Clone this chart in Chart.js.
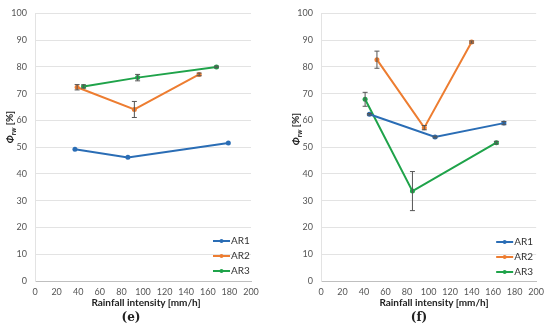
<!DOCTYPE html>
<html>
<head>
<meta charset="utf-8">
<script src="https://cdn.jsdelivr.net/npm/chart.js@4.4.1/dist/chart.umd.min.js"></script>
<style>
  body { margin: 0; background: #fff; }
  #wrap { position: relative; width: 550px; height: 329px; font-family: Lato, "Open Sans", sans-serif; }
  .pane { position: absolute; top: 0; width: 275px; height: 329px; }
  .xt { position: absolute; top: 296px; font-size: 10px; font-weight: bold; color: #222; white-space: nowrap; transform: translateX(-50%); }
  .yt { position: absolute; font-size: 10px; font-weight: bold; color: #222; white-space: nowrap; transform: translate(-50%, -50%) rotate(-90deg); }
  .yt sub { font-size: 7px; font-style: italic; }
  .cap { position: absolute; top: 310px; font-family: "DejaVu Serif", "Liberation Serif", serif; font-weight: bold; font-size: 12px; color: #222; transform: translateX(-50%); }
</style>
</head>
<body>
<div id="wrap">
  <div class="pane" style="left:0"><canvas id="chartE"></canvas></div>
  <div class="pane" style="left:275px"><canvas id="chartF"></canvas></div>
  <div class="yt" style="left:10px; top:127px"><i>Φ</i><sub>rw</sub> [%]</div>
  <div class="yt" style="left:296px; top:129px"><i>Φ</i><sub>rw</sub> [%]</div>
  <div class="xt" style="left:146px">Rainfall intensity [mm/h]</div>
  <div class="xt" style="left:434px">Rainfall intensity [mm/h]</div>
  <div class="cap" style="left:131px">(e)</div>
  <div class="cap" style="left:419px">(f)</div>
</div>
<script>
"use strict";

// tick labels
var xTicks = [0, 20, 40, 60, 80, 100, 120, 140, 160, 180, 200];
var yTicks = [0, 10, 20, 30, 40, 50, 60, 70, 80, 90, 100];
var seriesNames = ['AR1', 'AR2', 'AR3'];
var seriesColors = ['#2a6db5', '#ed7d31', '#1fa34a'];

// (e)
var rainE_AR1 = [37, 86, 179];
var phiE_AR1  = [49.2, 46.2, 51.6];
var errE_AR1  = [0, 0, 0];
var rainE_AR2 = [39, 92, 152];
var phiE_AR2  = [72.4, 64.1, 77.2];
var errE_AR2  = [1, 3, 0.5];
var rainE_AR3 = [45, 95, 168];
var phiE_AR3  = [72.7, 76.0, 80.0];
var errE_AR3  = [0.6, 1.2, 0.3];

// (f)
var rainF_AR1 = [45, 106, 170];
var phiF_AR1  = [62.3, 53.8, 59.0];
var errF_AR1  = [0.3, 0.3, 0.6];
var rainF_AR2 = [52, 96, 140];
var phiF_AR2  = [82.7, 57.3, 89.3];
var errF_AR2  = [3.2, 0.8, 0.4];
var rainF_AR3 = [41, 85, 163];
var phiF_AR3  = [67.9, 33.6, 51.7];
var errF_AR3  = [2.6, 7.3, 0.5];

function pts(xs, ys, es) {
  return xs.map(function (x, i) { return { x: x, y: ys[i], e: es[i] }; });
}

function makeSet(i, xs, ys, es) {
  return {
    label: seriesNames[i],
    data: pts(xs, ys, es),
    showLine: true,
    borderColor: seriesColors[i],
    backgroundColor: seriesColors[i],
    borderWidth: 2,
    pointRadius: 2.5,
    pointBorderWidth: 0,
    pointHoverRadius: 2.5
  };
}

// error bars
var errorBars = {
  id: 'errorBars',
  afterDatasetsDraw: function (chart) {
    var ctx = chart.ctx, xs = chart.scales.x, ys = chart.scales.y;
    ctx.save();
    ctx.strokeStyle = '#555';
    ctx.lineWidth = 1;
    chart.data.datasets.forEach(function (ds) {
      ds.data.forEach(function (p) {
        if (!p.e) return;
        var px = xs.getPixelForValue(p.x);
        var top = ys.getPixelForValue(p.y + p.e);
        var bot = ys.getPixelForValue(p.y - p.e);
        ctx.beginPath();
        ctx.moveTo(px, top); ctx.lineTo(px, bot);
        ctx.moveTo(px - 2.5, top); ctx.lineTo(px + 2.5, top);
        ctx.moveTo(px - 2.5, bot); ctx.lineTo(px + 2.5, bot);
        ctx.stroke();
      });
    });
    ctx.restore();
  }
};

// legend inside plot, bottom right
var innerLegend = {
  id: 'innerLegend',
  afterDraw: function (chart, args, opts) {
    var ctx = chart.ctx, a = chart.chartArea;
    ctx.save();
    ctx.font = '10px Lato, "Open Sans", sans-serif';
    ctx.textBaseline = 'middle';
    chart.data.datasets.forEach(function (ds, i) {
      var y = a.bottom - opts.up + i * 15;
      var x0 = a.right - opts.left;
      ctx.strokeStyle = ds.borderColor;
      ctx.lineWidth = 2;
      ctx.beginPath(); ctx.moveTo(x0, y); ctx.lineTo(x0 + 17, y); ctx.stroke();
      ctx.fillStyle = ds.borderColor;
      ctx.beginPath(); ctx.arc(x0 + 8.5, y, 2, 0, Math.PI * 2); ctx.fill();
      ctx.fillStyle = '#333';
      ctx.fillText(ds.label, x0 + 18, y);
    });
    ctx.restore();
  }
};

function makeChart(id, sets, yWidth, padRight, legLeft, legUp) {
  return new Chart(document.getElementById(id), {
    type: 'scatter',
    data: { datasets: sets },
    plugins: [errorBars, innerLegend],
    options: {
      responsive: false,
      animation: false,
      layout: { padding: { left: 0, right: padRight, top: 9, bottom: 18 } },
      plugins: {
        legend: { display: false },
        tooltip: { enabled: false },
        innerLegend: { left: legLeft, up: legUp }
      },
      scales: {
        x: {
          type: 'linear',
          min: xTicks[0], max: xTicks[xTicks.length - 1],
          afterFit: function (s) { s.height = 30; },
          afterBuildTicks: function (s) { s.ticks = xTicks.map(function (v) { return { value: v }; }); },
          grid: { display: false, drawTicks: false },
          border: { color: '#bfbfbf' },
          ticks: { padding: 6, color: '#555', font: { family: 'Lato', size: 9 }, maxRotation: 0 }
        },
        y: {
          type: 'linear',
          min: yTicks[0], max: yTicks[yTicks.length - 1],
          afterFit: function (s) { s.width = yWidth; },
          afterBuildTicks: function (s) { s.ticks = yTicks.map(function (v) { return { value: v }; }); },
          grid: { color: '#e3e3e3', drawTicks: false },
          border: { color: '#e3e3e3' },
          ticks: { padding: 8, color: '#555', font: { family: 'Lato', size: 9 } }
        }
      }
    }
  });
}

document.getElementById('chartE').width = 275;
document.getElementById('chartE').height = 329;
document.getElementById('chartF').width = 275;
document.getElementById('chartF').height = 329;

makeChart('chartE', [
  makeSet(0, rainE_AR1, phiE_AR1, errE_AR1),
  makeSet(1, rainE_AR2, phiE_AR2, errE_AR2),
  makeSet(2, rainE_AR3, phiE_AR3, errE_AR3)
], 35, 24, 38, 40);

makeChart('chartF', [
  makeSet(0, rainF_AR1, phiF_AR1, errF_AR1),
  makeSet(1, rainF_AR2, phiF_AR2, errF_AR2),
  makeSet(2, rainF_AR3, phiF_AR3, errF_AR3)
], 46, 11, 40, 39);
</script>
</body>
</html>
